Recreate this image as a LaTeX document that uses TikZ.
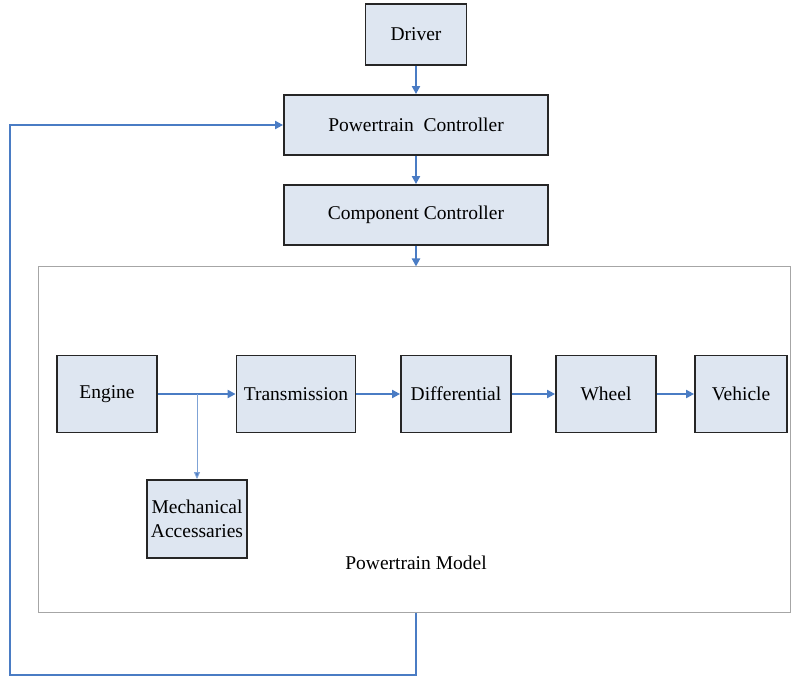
\documentclass[tikz,border=0pt]{standalone}
\usepackage{fontspec}
\setmainfont{Liberation Serif}
\usetikzlibrary{arrows.meta}
\definecolor{boxfill}{HTML}{DEE6F1}
\definecolor{arrowblue}{HTML}{4A7CC4}
\definecolor{thinblue}{HTML}{7FA3D6}
\begin{document}
\begin{tikzpicture}[x=1pt,y=-1pt,
  blk/.style={draw=black!85, line width=1.8pt, fill=boxfill, inner sep=0pt,
    font=\fontsize{19.5}{23.5}\selectfont, align=center},
  conn/.style={draw=arrowblue, line width=2pt, -{Triangle[length=8pt,width=8pt]}},
  thinconn/.style={draw=thinblue, line width=1pt, -{Triangle[length=7pt,width=6pt,fill=arrowblue]}},
  lbl/.style={font=\fontsize{19.5}{23.5}\selectfont}
]
\useasboundingbox (0,0) rectangle (795,676);
% outer model box
\node[draw=black!35, line width=1pt, minimum width=752, minimum height=345, inner sep=0pt] (model) at (414,439.5) {};
\node[lbl] (modellbl) at (416,563) {Powertrain Model};
% controllers
\node[blk, minimum width=101, minimum height=61] (driver) at (416,34.5) {Driver};
\node[blk, minimum width=264, minimum height=60] (pc) at (416,125) {Powertrain\ \ Controller};
\node[blk, minimum width=264, minimum height=60] (cc) at (416,215) {Component Controller};
% model blocks
\node[blk, minimum width=100, minimum height=77] (engine) at (107,394) {Engine};
\node[blk, minimum width=119, minimum height=77] (trans) at (296,394) {Transmission};
\node[blk, minimum width=110, minimum height=77] (diff) at (456,394) {Differential};
\node[blk, minimum width=100, minimum height=77] (wheel) at (606,394) {Wheel};
\node[blk, minimum width=92, minimum height=77] (vehicle) at (741,394) {Vehicle};
\node[blk, minimum width=100, minimum height=78] (mech) at (197,519) {Mechanical\\Accessaries};
% connectors
\draw[conn] (driver) -- (pc);
\draw[conn] (pc) -- (cc);
\draw[conn] (cc.south) -- (cc.south |- model.north);
\coordinate (fbcorner) at (10,675);
\draw[conn] (cc.south |- model.south) |- (fbcorner) |- (pc.west);
\draw[conn] (engine) -- (trans);
\draw[conn] (trans) -- (diff);
\draw[conn] (diff) -- (wheel);
\draw[conn] (wheel) -- (vehicle);
\coordinate (br) at (197,394);
\draw[thinconn] (br) -- (br |- mech.north);
\end{tikzpicture}
\end{document}
